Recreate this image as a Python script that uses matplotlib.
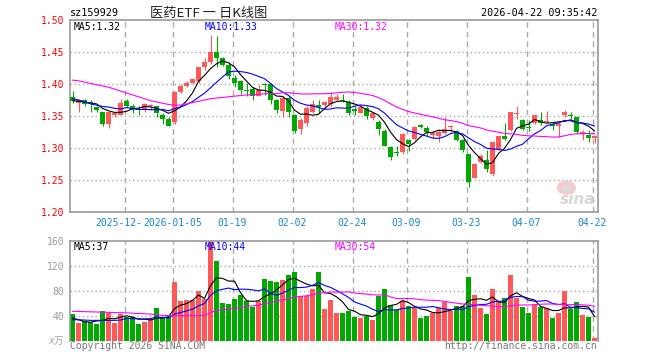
import numpy as np
import matplotlib
matplotlib.use('Agg')
import matplotlib.pyplot as plt
from matplotlib.patches import Ellipse

# ---------------- data ----------------
opens = [1.380, 1.371, 1.375, 1.372, 1.364, 1.356, 1.337, 1.352, 1.352, 1.374,
         1.366, 1.361, 1.360, 1.365, 1.365, 1.352, 1.346, 1.340, 1.388, 1.397,
         1.402, 1.404, 1.426, 1.434, 1.450, 1.440, 1.429, 1.410, 1.404, 1.390,
         1.392, 1.382, 1.400, 1.400, 1.3745, 1.3573, 1.378, 1.3516, 1.3292, 1.3391,
         1.3557, 1.367, 1.3672, 1.3693, 1.3755, 1.3755, 1.372, 1.3615, 1.355, 1.363,
         1.3474, 1.341, 1.327, 1.301, 1.293, 1.293, 1.313, 1.314, 1.3354, 1.332,
         1.3203, 1.319, 1.3234, 1.333, 1.3266, 1.313, 1.290, 1.2536, 1.2776, 1.282,
         1.2599, 1.2984, 1.318, 1.3276, 1.3526, 1.344, 1.333, 1.339, 1.343, 1.340,
         1.338, 1.335, 1.3516, 1.352, 1.3484, 1.3224, 1.320, 1.3161]
highs = [1.389, 1.377, 1.377, 1.375, 1.366, 1.357, 1.357, 1.357, 1.376, 1.376,
         1.368, 1.366, 1.370, 1.369, 1.366, 1.355, 1.348, 1.389, 1.400, 1.404,
         1.410, 1.427, 1.440, 1.476, 1.475, 1.442, 1.435, 1.414, 1.407, 1.401,
         1.396, 1.398, 1.401, 1.402, 1.377, 1.3807, 1.381, 1.3526, 1.3464, 1.365,
         1.3745, 1.3745, 1.373, 1.387, 1.384, 1.385, 1.3745, 1.366, 1.366, 1.365,
         1.3557, 1.343, 1.329, 1.3036, 1.303, 1.3234, 1.3146, 1.335, 1.338, 1.334,
         1.327, 1.3286, 1.349, 1.3365, 1.3286, 1.314, 1.291, 1.2766, 1.290, 1.2964,
         1.311, 1.319, 1.339, 1.357, 1.365, 1.346, 1.344, 1.3536, 1.357, 1.358,
         1.340, 1.340, 1.360, 1.357, 1.3505, 1.3276, 1.3286, 1.3203]
lows = [1.370, 1.357, 1.365, 1.356, 1.356, 1.334, 1.331, 1.348, 1.351, 1.364,
        1.355, 1.352, 1.356, 1.360, 1.348, 1.338, 1.334, 1.337, 1.386, 1.395,
        1.400, 1.402, 1.422, 1.431, 1.427, 1.428, 1.408, 1.395, 1.384, 1.381,
        1.375, 1.381, 1.383, 1.368, 1.355, 1.348, 1.349, 1.3229, 1.3214, 1.334,
        1.3547, 1.3547, 1.3625, 1.364, 1.374, 1.372, 1.352, 1.352, 1.354, 1.345,
        1.343, 1.320, 1.3026, 1.2818, 1.288, 1.290, 1.2948, 1.313, 1.331, 1.319,
        1.315, 1.310, 1.322, 1.3245, 1.311, 1.293, 1.2385, 1.2526, 1.2766, 1.262,
        1.2557, 1.297, 1.313, 1.326, 1.345, 1.3286, 1.326, 1.3375, 1.3365, 1.339,
        1.3276, 1.317, 1.3484, 1.345, 1.3224, 1.313, 1.310, 1.3078]
closes = [1.373, 1.375, 1.368, 1.370, 1.359, 1.338, 1.356, 1.355, 1.371, 1.366,
          1.360, 1.359, 1.369, 1.367, 1.354, 1.346, 1.335, 1.388, 1.397, 1.402,
          1.408, 1.426, 1.434, 1.450, 1.440, 1.430, 1.412, 1.402, 1.390, 1.389,
          1.381, 1.391, 1.399, 1.375, 1.360, 1.3776, 1.357, 1.326, 1.3432, 1.362,
          1.368, 1.364, 1.3714, 1.3802, 1.379, 1.373, 1.354, 1.358, 1.3635, 1.3505,
          1.354, 1.330, 1.3036, 1.2865, 1.2917, 1.3224, 1.307, 1.3333, 1.3333, 1.3245,
          1.3234, 1.3245, 1.330, 1.335, 1.312, 1.297, 1.2464, 1.2745, 1.288, 1.267,
          1.310, 1.318, 1.3146, 1.356, 1.3547, 1.3297, 1.331, 1.3516, 1.339, 1.3427,
          1.334, 1.337, 1.3557, 1.3505, 1.3245, 1.3245, 1.3156, 1.3193]
volumes = [42.7, 28.8, 32.0, 29.9, 26.7, 47.5, 44.8, 28.8, 42.7, 37.9,
           37.9, 26.7, 29.9, 35.7, 52.3, 38.9, 37.9, 93.9, 63.5, 65.0,
           65.0, 80.0, 67.7, 165.0, 128.0, 60.3, 58.7, 66.7, 73.0, 63.5,
           55.0, 64.0, 98.7, 95.5, 93.9, 97.6, 105.0, 110.0, 71.5, 71.5,
           83.0, 110.0, 50.7, 65.0, 44.3, 44.3, 47.5, 37.9, 36.3, 40.0,
           33.0, 71.5, 82.7, 57.0, 49.0, 63.5, 55.5, 52.3, 36.3, 40.0,
           44.3, 52.3, 61.9, 47.5, 55.5, 55.5, 101.9, 73.0, 52.3, 42.7,
           82.7, 61.9, 68.3, 105.0, 68.3, 53.9, 44.3, 57.0, 53.9, 52.3,
           36.3, 44.3, 79.5, 50.7, 61.9, 41.0, 37.9, 4.3]

# moving-average values before enough history exists
ma5_head = [1.374, 1.373, 1.372, 1.370]
ma10_head = [1.377, 1.375, 1.372, 1.369, 1.367, 1.365, 1.364, 1.362, 1.361]
ma30_head = [1.406, 1.405, 1.403, 1.401, 1.399, 1.397, 1.395, 1.392, 1.389, 1.386,
             1.383, 1.380, 1.377, 1.374, 1.372, 1.370, 1.368, 1.367, 1.367, 1.369,
             1.371, 1.373, 1.375, 1.377, 1.378, 1.379, 1.380, 1.381, 1.382]
vma5_head = [37, 34, 31, 30]
vma10_head = [34, 34, 33.5, 33, 33, 33, 33, 33, 33.5]
vma30_head = [47.5, 47.3, 47.0, 46.7, 46.4, 46.1, 45.8, 45.5, 45.3, 45.0,
              44.5, 44.0, 43.5, 43.0, 42.0, 41.0, 40.5, 40.5, 40.5, 40.5,
              40.5, 40.5, 41.0, 45.5, 49.0, 50.0, 51.0, 52.0, 53.0]

tick_idx = [9, 17, 27, 37, 47, 56, 66, 76, 87]
tick_labels = ['2025-12-22', '2026-01-05', '01-19', '02-02', '02-24',
               '03-09', '03-23', '04-07', '04-22']
price_ticks = [1.20, 1.25, 1.30, 1.35, 1.40, 1.45, 1.50]
vol_ticks = [40, 80, 120, 160]

code_text = 'sz159929'
title_text = '医药ETF 一 日K线图'
time_text = '2026-04-22 09:35:42'
price_legend = ['MA5:1.32', 'MA10:1.33', 'MA30:1.32']
vol_legend = ['MA5:37', 'MA10:44', 'MA30:54']

# ---------------- style ----------------
RED = '#ff5858'
GREEN = '#00a800'
MA_COLORS = ['#000000', '#0000ff', '#ff00ff']
GRID = '#aaaaaa'
FRAME = '#999999'
DATE_C = '#1a86d4'
MONO = ['DejaVu Sans Mono']
FS = 7


def moving_avg(values, n, head):
    v = np.asarray(values, float)
    out = np.empty(len(v))
    out[:n - 1] = head
    out[n - 1:] = np.convolve(v, np.ones(n) / n, mode='valid')
    return out


W, H = 660, 360
fig = plt.figure(figsize=(W / 100, H / 100), dpi=100)
fig.patch.set_facecolor('white')


def fx(px):
    return px / W


def fy(py):
    return 1 - py / H


ax = fig.add_axes([fx(70), fy(212), 528 / W, 192 / H])
axv = fig.add_axes([fx(70), fy(341), 528 / W, 100 / H])

n = len(closes)
x = np.arange(n)
o = np.array(opens); h = np.array(highs); l = np.array(lows); c = np.array(closes)
up = c >= o
cols = np.where(up, RED, GREEN)
xlim = (-5 / 12, n - 5 / 12)
grid_x = np.array(tick_idx) - 0.33

# ---- price panel ----
for a in (ax, axv):
    a.set_xlim(*xlim)
    for gx in grid_x:
        a.axvline(gx, color=GRID, lw=1.0, ls=(0, (4, 3)), zorder=0)

for yv in price_ticks[1:-1]:
    ax.axhline(yv, color=GRID, lw=1.0, ls=(0, (1, 2)), zorder=0)

ax.vlines(x, l, h, colors=cols, lw=0.8, zorder=2)
body_h = np.maximum(np.abs(c - o), 0.0017)
ax.bar(x, body_h, bottom=np.minimum(o, c), width=0.8, color=cols, lw=0, zorder=3)

for period, head, col in zip((5, 10, 30), (ma5_head, ma10_head, ma30_head), MA_COLORS):
    ax.plot(x, moving_avg(closes, period, head), color=col, lw=0.8, zorder=4)

ax.set_ylim(1.20, 1.50)
ax.set_yticks(price_ticks, [f'{v:.2f}' for v in price_ticks])
ax.tick_params(axis='y', length=0, pad=4, labelcolor='#ff0000', labelsize=FS)
ax.set_xticks(grid_x, tick_labels)
ax.tick_params(axis='x', length=0, pad=4, labelcolor=DATE_C, labelsize=FS)
for lbl in ax.get_yticklabels() + ax.get_xticklabels():
    lbl.set_family(MONO)
for lbl in ax.get_xticklabels():
    lbl.set_bbox(dict(facecolor='white', edgecolor='none', pad=0))
for s in ax.spines.values():
    s.set_color(FRAME)
    s.set_linewidth(1.2)

# watermark (sina logo)
ax.add_patch(Ellipse((82.3, 1.238), 3.2, 0.022, facecolor='#f6caca',
                     edgecolor='none', zorder=1))
ax.add_patch(Ellipse((82.3, 1.237), 1.6, 0.011, facecolor='#dcdcdc',
                     edgecolor='none', zorder=1))

# ---- volume panel ----
for yv in vol_ticks[:-1]:
    axv.axhline(yv, color=GRID, lw=1.0, ls=(0, (1, 2)), zorder=0)
axv.bar(x, volumes, width=0.83, color=cols, lw=0, zorder=2)
for period, head, col in zip((5, 10, 30), (vma5_head, vma10_head, vma30_head), MA_COLORS):
    axv.plot(x, moving_avg(volumes, period, head), color=col, lw=0.8, zorder=4)
axv.set_ylim(0, 160)
axv.set_yticks(vol_ticks, [str(v) for v in vol_ticks])
axv.tick_params(axis='y', length=0, pad=4, labelcolor=FRAME, labelsize=FS)
axv.set_xticks([])
for lbl in axv.get_yticklabels():
    lbl.set_family(MONO)
for k, s in axv.spines.items():
    s.set_color(FRAME)
    s.set_linewidth(1.2)
axv.spines['bottom'].set_visible(False)

# ---- texts ----
fig.text(fx(70), fy(13), code_text, ha='left', va='center', fontsize=FS + 0.3,
         family=MONO, color='black')
fig.text(fx(209), fy(13), title_text, ha='center', va='center', fontsize=9.5,
         family=['Noto Sans CJK SC', 'DejaVu Sans'], color='#222222')
fig.text(fx(597), fy(13), time_text, ha='right', va='center', fontsize=FS + 0.3,
         family=MONO, color='black')

for txt, px, col in zip(price_legend, (74, 205, 335), MA_COLORS):
    fig.text(fx(px), fy(26.5), txt, ha='left', va='center', fontsize=FS,
             family=MONO, color=col)
for txt, px, col in zip(vol_legend, (74, 205, 335), MA_COLORS):
    fig.text(fx(px), fy(247), txt, ha='left', va='center', fontsize=FS,
             family=MONO, color=col)

fig.text(fx(64), fy(341), 'x万', ha='right', va='center', fontsize=FS,
         family=['DejaVu Sans Mono', 'Noto Sans CJK SC'], color='#aaaaaa', style='italic')
fig.text(fx(70), fy(346), 'Copyright 2026 SINA.COM', ha='left', va='center',
         fontsize=FS, family=MONO, color='#777777')
fig.text(fx(597), fy(346), 'http://finance.sina.com.cn', ha='right', va='center',
         fontsize=FS, family=MONO, color='#777777')
fig.text(fx(578), fy(199), 'sina', ha='center', va='center', fontsize=11,
         fontweight='bold', style='italic', color='#d6d6d6')

fig.savefig('out.png', dpi=100, facecolor='white')
